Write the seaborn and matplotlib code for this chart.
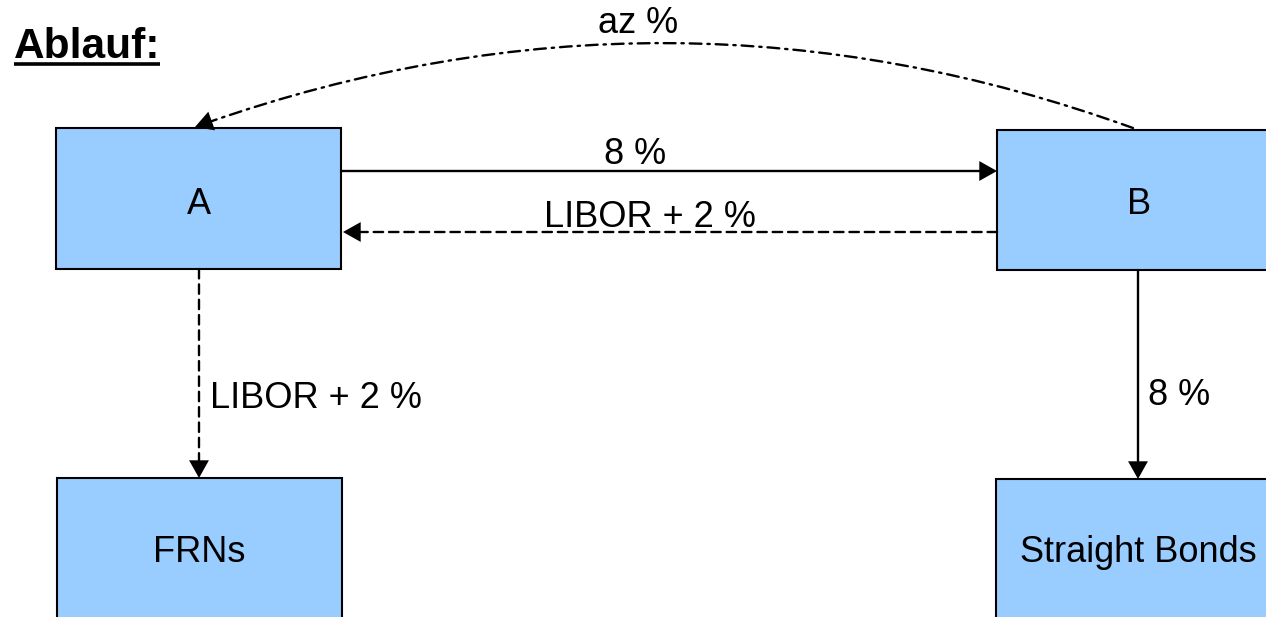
import matplotlib
matplotlib.use("Agg")
import matplotlib.pyplot as plt
import seaborn as sns
from matplotlib.patches import Rectangle, FancyArrowPatch

# boxes (pixel layout of the slide)
box_labels = ["A", "B", "FRNs", "Straight Bonds"]
box_x0 = [56, 997, 57, 996]
box_y0 = [128, 130, 478, 479]
box_w = [285, 285, 285, 285]
box_h = [141, 140, 150, 150]
box_label_y = [214, 214, 562, 562]

# arrows: start, end, style, curvature
arrow_x1 = [341, 997, 199, 1138, 1133]
arrow_y1 = [171, 232, 269, 270, 128]
arrow_x2 = [997, 343, 199, 1138, 195]
arrow_y2 = [171, 232, 478, 479, 127]
arrow_style = ["solid", "dashed", "dashed", "solid", "dashdot"]
arrow_rad = [0, 0, 0, 0, 0.18]

# flow labels
flow_text = ["az %", "8 %", "LIBOR + 2 %", "LIBOR + 2 %", "8 %"]
flow_x = [638, 635, 650, 210, 1148]
flow_y = [33, 164, 227, 408, 405]
flow_ha = ["center", "center", "center", "left", "left"]

title = "Ablauf:"

sns.set_theme(style="white")
plt.rcParams["font.family"] = ["Liberation Sans", "DejaVu Sans"]

linestyles = {
    "solid": "-",
    "dashed": (0, (4, 2.5)),
    "dashdot": (0, (5, 2.5, 1, 2.5)),
}

fig = plt.figure(figsize=(12.66, 6.17), dpi=100)
ax = fig.add_axes([0, 0, 1, 1])
ax.set_xlim(0, 1266)
ax.set_ylim(617, 0)
ax.axis("off")

for lab, x0, y0, w, h, ly in zip(box_labels, box_x0, box_y0, box_w, box_h,
                                 box_label_y):
    ax.add_patch(Rectangle((x0, y0), w, h, facecolor="#99ccff",
                           edgecolor="black", lw=1.5, zorder=2))
    ax.text(x0 + w / 2, ly, lab, ha="center", va="baseline", fontsize=26,
            color="black", zorder=3)

for x1, y1, x2, y2, st, rad in zip(arrow_x1, arrow_y1, arrow_x2, arrow_y2,
                                   arrow_style, arrow_rad):
    conn = "arc3,rad={}".format(rad)
    # shaft in its own line style
    shaft = FancyArrowPatch((x1, y1), (x2, y2), arrowstyle="-",
                            shrinkA=0, shrinkB=8, connectionstyle=conn,
                            color="black", lw=1.7, linestyle=linestyles[st],
                            zorder=4)
    ax.add_patch(shaft)
    # solid filled head
    head = FancyArrowPatch((x1, y1), (x2, y2),
                           arrowstyle="-|>,head_length=0.75,head_width=0.42",
                           mutation_scale=17, shrinkA=0, shrinkB=0,
                           connectionstyle=conn, facecolor="black",
                           edgecolor="none", lw=0, zorder=4)
    ax.add_patch(head)

for t, x, y, ha in zip(flow_text, flow_x, flow_y, flow_ha):
    ax.text(x, y, t, ha=ha, va="baseline", fontsize=26, color="black", zorder=5)

ax.text(14, 58, title, ha="left", va="baseline", fontsize=30.5,
        fontweight="bold", color="black")
ax.plot([14, 160], [64, 64], color="black", lw=2.6, solid_capstyle="butt")

fig.savefig("out.png", dpi=100)
